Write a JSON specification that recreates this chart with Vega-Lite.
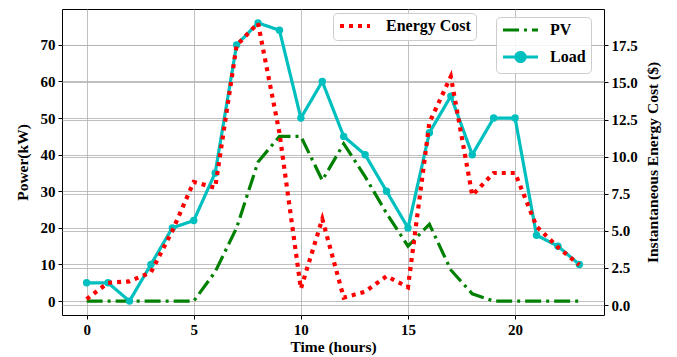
{
  "$schema": "https://vega.github.io/schema/vega-lite/v6.json",
  "width": 542,
  "height": 306,
  "autosize": "none",
  "padding": {"left": 62, "top": 9, "right": 73, "bottom": 42},
  "background": "white",
  "config": {
    "font": "Liberation Serif",
    "view": {"stroke": "black", "strokeWidth": 1},
    "axis": {
      "labelFont": "Liberation Serif",
      "labelFontWeight": "bold",
      "labelFontSize": 15,
      "labelColor": "black",
      "titleFont": "Liberation Serif",
      "titleFontWeight": "bold",
      "titleFontSize": 15.5,
      "titleColor": "black",
      "tickColor": "black",
      "tickSize": 4,
      "labelPadding": 3,
      "domain": false,
      "gridColor": "#b0b0b0",
      "gridWidth": 0.8,
      "gridOpacity": 1
    },
    "legend": {
      "labelFont": "Liberation Serif",
      "labelFontSize": 16,
      "labelFontWeight": "bold",
      "labelColor": "black",
      "fillColor": "rgba(255,255,255,0.85)",
      "strokeColor": "#cccccc",
      "cornerRadius": 4,
      "padding": 5
    }
  },
  "data": {
    "values": [
      {"hour": 0, "series": "Load", "value": 5},
      {"hour": 1, "series": "Load", "value": 5},
      {"hour": 2, "series": "Load", "value": 0},
      {"hour": 3, "series": "Load", "value": 10},
      {"hour": 4, "series": "Load", "value": 20},
      {"hour": 5, "series": "Load", "value": 22},
      {"hour": 6, "series": "Load", "value": 35},
      {"hour": 7, "series": "Load", "value": 70},
      {"hour": 8, "series": "Load", "value": 76},
      {"hour": 9, "series": "Load", "value": 74},
      {"hour": 10, "series": "Load", "value": 50},
      {"hour": 11, "series": "Load", "value": 60},
      {"hour": 12, "series": "Load", "value": 45},
      {"hour": 13, "series": "Load", "value": 40},
      {"hour": 14, "series": "Load", "value": 30},
      {"hour": 15, "series": "Load", "value": 20},
      {"hour": 16, "series": "Load", "value": 46},
      {"hour": 17, "series": "Load", "value": 56},
      {"hour": 18, "series": "Load", "value": 40},
      {"hour": 19, "series": "Load", "value": 50},
      {"hour": 20, "series": "Load", "value": 50},
      {"hour": 21, "series": "Load", "value": 18},
      {"hour": 22, "series": "Load", "value": 15},
      {"hour": 23, "series": "Load", "value": 10},
      {"hour": 0, "series": "PV", "value": 0},
      {"hour": 1, "series": "PV", "value": 0},
      {"hour": 2, "series": "PV", "value": 0},
      {"hour": 3, "series": "PV", "value": 0},
      {"hour": 4, "series": "PV", "value": 0},
      {"hour": 5, "series": "PV", "value": 0},
      {"hour": 6, "series": "PV", "value": 8},
      {"hour": 7, "series": "PV", "value": 20},
      {"hour": 8, "series": "PV", "value": 38},
      {"hour": 9, "series": "PV", "value": 45},
      {"hour": 10, "series": "PV", "value": 45},
      {"hour": 11, "series": "PV", "value": 33},
      {"hour": 12, "series": "PV", "value": 43},
      {"hour": 13, "series": "PV", "value": 34},
      {"hour": 14, "series": "PV", "value": 24},
      {"hour": 15, "series": "PV", "value": 15},
      {"hour": 16, "series": "PV", "value": 21},
      {"hour": 17, "series": "PV", "value": 8.5},
      {"hour": 18, "series": "PV", "value": 2},
      {"hour": 19, "series": "PV", "value": 0},
      {"hour": 20, "series": "PV", "value": 0},
      {"hour": 21, "series": "PV", "value": 0},
      {"hour": 22, "series": "PV", "value": 0},
      {"hour": 23, "series": "PV", "value": 0},
      {"hour": 0, "series": "Energy Cost", "value": 0.4},
      {"hour": 1, "series": "Energy Cost", "value": 1.5},
      {"hour": 2, "series": "Energy Cost", "value": 1.6},
      {"hour": 3, "series": "Energy Cost", "value": 2.2},
      {"hour": 4, "series": "Energy Cost", "value": 5.0},
      {"hour": 5, "series": "Energy Cost", "value": 8.3},
      {"hour": 6, "series": "Energy Cost", "value": 7.9},
      {"hour": 7, "series": "Energy Cost", "value": 17.5},
      {"hour": 8, "series": "Energy Cost", "value": 19.0},
      {"hour": 9, "series": "Energy Cost", "value": 11.6},
      {"hour": 10, "series": "Energy Cost", "value": 1.1},
      {"hour": 11, "series": "Energy Cost", "value": 5.8},
      {"hour": 12, "series": "Energy Cost", "value": 0.5},
      {"hour": 13, "series": "Energy Cost", "value": 0.9},
      {"hour": 14, "series": "Energy Cost", "value": 1.95},
      {"hour": 15, "series": "Energy Cost", "value": 1.2},
      {"hour": 16, "series": "Energy Cost", "value": 12.3},
      {"hour": 17, "series": "Energy Cost", "value": 15.4},
      {"hour": 18, "series": "Energy Cost", "value": 7.4},
      {"hour": 19, "series": "Energy Cost", "value": 8.9},
      {"hour": 20, "series": "Energy Cost", "value": 8.9},
      {"hour": 21, "series": "Energy Cost", "value": 5.3},
      {"hour": 22, "series": "Energy Cost", "value": 3.9},
      {"hour": 23, "series": "Energy Cost", "value": 2.7}
    ]
  },
  "encoding": {
    "x": {
      "field": "hour",
      "type": "quantitative",
      "scale": {"domain": [-1.15, 24.15], "nice": false, "zero": false},
      "axis": {"values": [0, 5, 10, 15, 20], "format": "d", "title": "Time (hours)", "grid": true, "titlePadding": 2}
    }
  },
  "layer": [
    {
      "layer": [
        {
          "transform": [{"filter": "datum.series !== 'Energy Cost'"}],
          "mark": {"type": "line", "strokeWidth": 3.2, "strokeCap": "butt"},
          "encoding": {
            "y": {
              "field": "value",
              "type": "quantitative",
              "scale": {"domain": [-3.8, 79.8], "nice": false, "zero": false},
              "axis": {"orient": "left", "values": [0, 10, 20, 30, 40, 50, 60, 70], "title": "Power(kW)", "grid": true, "titlePadding": 10}
            },
            "color": {
              "field": "series",
              "type": "nominal",
              "scale": {"domain": ["PV", "Load"], "range": ["#008000", "#00bfbf"]},
              "legend": {
                "orient": "none", "legendX": 434, "legendY": 8, "title": null,
                "symbolType": "M-1,0H6", "symbolSize": 100, "symbolStrokeWidth": 3.2,
                "symbolOffset": -1, "labelOffset": 34, "rowPadding": 8,
                "encode": {"symbols": {"update": {
                  "shape": {"signal": "datum.value === 'Load' ? 'M-1,0H6M1.6,0A0.9,0.9,0,1,0,3.4,0A0.9,0.9,0,1,0,1.6,0Z' : 'M-1,0H6'"},
                  "fill": {"signal": "datum.value === 'Load' ? '#00bfbf' : 'transparent'"}
                }}}
              }
            },
            "strokeDash": {
              "field": "series",
              "type": "nominal",
              "scale": {"domain": ["PV", "Load"], "range": [[16, 5, 3, 5], [1, 0]]},
              "legend": {
                "orient": "none", "legendX": 434, "legendY": 8, "title": null,
                "symbolType": "M-1,0H6", "symbolSize": 100, "symbolStrokeWidth": 3.2,
                "symbolOffset": -1, "labelOffset": 34, "rowPadding": 8,
                "encode": {"symbols": {"update": {
                  "shape": {"signal": "datum.value === 'Load' ? 'M-1,0H6M1.6,0A0.9,0.9,0,1,0,3.4,0A0.9,0.9,0,1,0,1.6,0Z' : 'M-1,0H6'"},
                  "fill": {"signal": "datum.value === 'Load' ? '#00bfbf' : 'transparent'"}
                }}}
              }
            }
          }
        },
        {
          "transform": [{"filter": "datum.series === 'Load'"}],
          "mark": {"type": "point", "filled": true, "size": 55, "color": "#00bfbf", "opacity": 1},
          "encoding": {
            "y": {"field": "value", "type": "quantitative", "scale": {"domain": [-3.8, 79.8], "nice": false, "zero": false}}
          }
        }
      ]
    },
    {
      "transform": [{"filter": "datum.series === 'Energy Cost'"}],
      "mark": {"type": "line", "strokeWidth": 4.2, "strokeDash": [4, 5], "strokeCap": "butt"},
      "encoding": {
        "y": {
          "field": "value",
          "type": "quantitative",
          "scale": {"domain": [-0.67, 19.95], "nice": false, "zero": false},
          "axis": {"orient": "right", "values": [0, 2.5, 5, 7.5, 10, 12.5, 15, 17.5], "format": ".1f", "title": "Instantaneous Energy Cost ($)", "titleAngle": 270, "grid": true, "titlePadding": 23}
        },
        "color": {
          "field": "series",
          "type": "nominal",
          "scale": {"domain": ["Energy Cost"], "range": ["#ff0000"]},
          "legend": {
            "orient": "none", "legendX": 271, "legendY": 4, "title": null,
            "symbolType": "M-1,0H5", "symbolSize": 100, "symbolStrokeWidth": 4.2, "symbolDash": [4, 5],
            "symbolOffset": -1, "labelOffset": 33
          }
        }
      }
    }
  ],
  "resolve": {"scale": {"y": "independent", "color": "independent", "strokeDash": "independent"}}
}
